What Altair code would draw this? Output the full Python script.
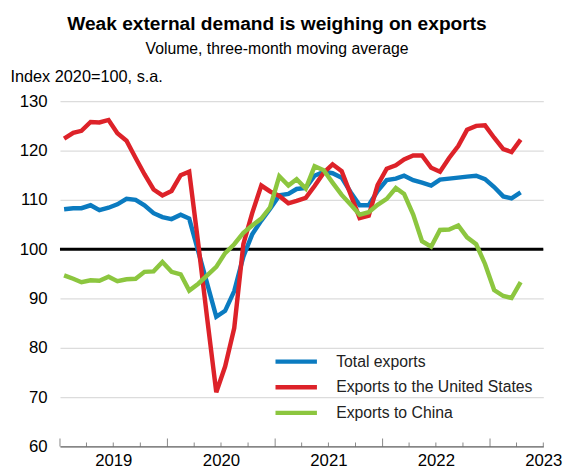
import altair as alt
import pandas as pd

# Monthly observations, Jan 2019 .. Apr 2023 (plotted mid-month)
months = [f"{2019 + i // 12}-{i % 12 + 1:02d}-15" for i in range(52)]

total = [108.1, 108.3, 108.3, 108.9, 107.9, 108.4, 109.1, 110.2, 110.0, 108.9, 107.3, 106.5,
         106.1, 107.0, 106.2, 99.5, 93.0, 86.3, 87.5, 91.5, 98.5, 103.0, 105.8, 108.2,
         110.9, 111.2, 112.2, 112.4, 114.9, 115.7, 115.4, 114.5, 111.5, 108.9, 108.9, 111.8,
         114.0, 114.3, 114.9, 114.0, 113.5, 112.9, 114.1, 114.3, 114.5, 114.7, 114.9, 114.2,
         112.6, 110.7, 110.3, 111.5]
us = [122.4, 123.6, 124.0, 125.8, 125.7, 126.2, 123.5, 122.0, 118.5, 115.2, 112.1, 110.9,
      111.8, 115.0, 115.7, 101.0, 86.0, 71.0, 76.2, 84.0, 101.0, 107.3, 112.9, 111.7,
      110.8, 109.3, 109.8, 110.4, 112.8, 115.5, 117.2, 115.8, 111.0, 106.3, 106.8, 113.0,
      116.3, 117.0, 118.2, 119.0, 119.0, 116.5, 115.7, 118.5, 120.9, 124.2, 125.0, 125.1,
      122.6, 120.3, 119.7, 122.2]
china = [94.7, 94.0, 93.3, 93.7, 93.6, 94.4, 93.5, 93.9, 94.0, 95.4, 95.5, 97.4,
         95.4, 94.9, 91.6, 93.0, 94.7, 96.4, 99.2, 101.0, 103.3, 104.8, 106.2, 108.5,
         114.8, 112.9, 114.2, 112.3, 116.8, 116.0, 113.5, 111.0, 109.0, 107.0, 107.5, 109.0,
         110.2, 112.4, 111.2, 107.0, 101.6, 100.5, 103.9, 104.0, 104.8, 102.4, 101.0, 97.0,
         91.7, 90.5, 90.1, 93.3]

series_names = ["Total exports", "Exports to the United States", "Exports to China"]
series_colors = ["#0b7bc0", "#dd2229", "#8cc63f"]

year_labels = [2019, 2020, 2021, 2022, 2023]
y_ticks = [60, 70, 80, 90, 100, 110, 120, 130]
year_tick_dates = [f"{y}-01-01T00:00:00" for y in [2019, 2020, 2021, 2022, 2023]]
quarter_tick_dates = [f"{y}-{m:02d}-01T00:00:00" for y in [2019, 2020, 2021, 2022]
                      for m in (4, 7, 10)] + ["2023-04-01T00:00:00", "2023-07-01T00:00:00"]

FONT = "Liberation Sans"

df = pd.DataFrame({"month": months, series_names[0]: total,
                   series_names[1]: us, series_names[2]: china})
long = df.melt("month", var_name="series", value_name="value")

x_scale = alt.Scale(domain=[alt.DateTime(year=2019, month=1, date=1),
                            alt.DateTime(year=2023, month=7, date=1)])
y_scale = alt.Scale(domain=[60, 130], nice=False, zero=False)

x_axis = alt.Axis(values=[alt.DateTime(year=y, month=7, date=1) for y in year_labels],
                  format="%Y", ticks=False, grid=False, domainColor="#666666",
                  domainWidth=1.2, labelFontSize=17, labelColor="black",
                  labelPadding=6, labelFlush=False, labelOverlap=False, title=None)
y_axis = alt.Axis(values=y_ticks, grid=True, gridColor="#dcdcdc", gridWidth=1.3,
                  ticks=False, domain=False, labelFontSize=17, labelColor="black",
                  labelPadding=13, title="Index 2020=100, s.a.", titleAngle=0,
                  titleAlign="left", titleX=-50.7, titleY=-20, titleFontSize=16.5,
                  titleFontWeight="normal", titleColor="black",
                  titleBaseline="alphabetic")

baseline = alt.Chart(pd.DataFrame({"v": [100]})).mark_rule(
    color="black", strokeWidth=3).encode(
    y=alt.Y("v:Q", scale=y_scale, axis=y_axis))

# Legend symbol: custom flat path, twice the nominal symbol radius long
lines = alt.Chart(long).mark_line(strokeWidth=4.5).encode(
    x=alt.X("month:T", scale=x_scale, axis=x_axis),
    y=alt.Y("value:Q", scale=y_scale, axis=y_axis),
    color=alt.Color("series:N",
                    scale=alt.Scale(domain=series_names, range=series_colors),
                    sort=series_names,
                    legend=alt.Legend(orient="none", legendX=226.5, legendY=251,
                                      title=None, symbolType="M-2,0H2",
                                      symbolSize=441, symbolStrokeWidth=4.5,
                                      symbolFillColor="transparent",
                                      labelFontSize=16, labelColor="#222222",
                                      labelOffset=27.5, rowPadding=4,
                                      labelLimit=400, labelFont=FONT)),
)

ticks_year = alt.Chart(pd.DataFrame({"d": year_tick_dates})).mark_tick(
    orient="vertical", size=8, thickness=1, yOffset=-4, color="#555555").encode(
    x=alt.X("d:T", scale=x_scale), y=alt.datum(60))
ticks_q = alt.Chart(pd.DataFrame({"d": quarter_tick_dates})).mark_tick(
    orient="vertical", size=4, thickness=1, yOffset=-2, color="#555555").encode(
    x=alt.X("d:T", scale=x_scale), y=alt.datum(60))

chart = alt.layer(baseline, lines, ticks_year, ticks_q).properties(
    width=490, height=350,
    autosize=alt.AutoSizeParams(type="none"),
    padding={"left": 52.7, "top": 91.3, "right": 22, "bottom": 22},
    title=alt.TitleParams(
        text="Weak external demand is weighing on exports",
        subtitle="Volume, three-month moving average",
        fontSize=19.4, subtitleFontSize=16, font=FONT, subtitleFont=FONT,
        fontWeight="bold", color="black", subtitleColor="black",
        anchor="middle", frame="group", dx=-25, offset=11, subtitlePadding=6.5),
).configure(font=FONT).configure_view(stroke=None)

chart.save("out.html", embed_options={"renderer": "svg", "actions": False})
